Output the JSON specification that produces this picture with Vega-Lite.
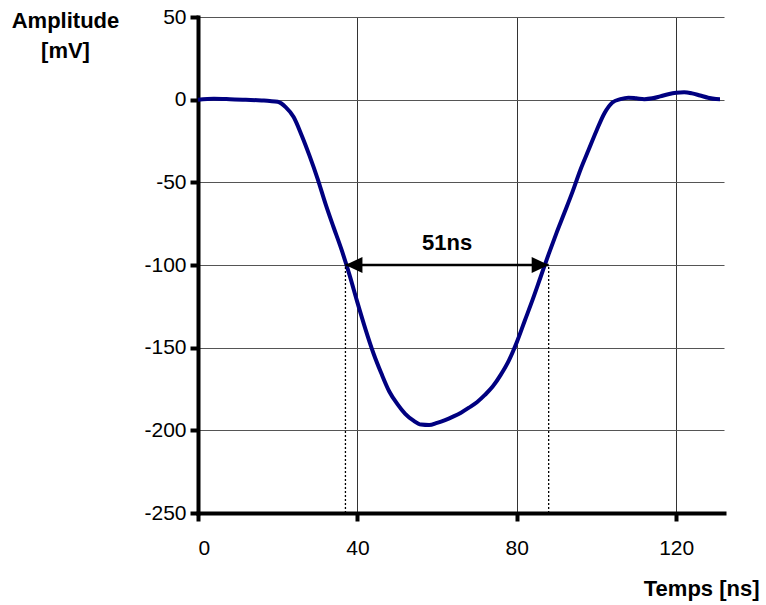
{
  "$schema": "https://vega.github.io/schema/vega-lite/v6.json",
  "width": 526,
  "height": 496,
  "autosize": "none",
  "padding": {"left": 198, "top": 17, "right": 42, "bottom": 92},
  "background": "white",
  "config": {
    "view": {"stroke": null},
    "font": "Liberation Sans",
    "axis": {
      "domainColor": "black",
      "domainWidth": 4,
      "domainCap": "square",
      "tickColor": "black",
      "tickWidth": 4,
      "tickSize": 8,
      "labelFont": "Liberation Sans",
      "labelFontSize": 21,
      "labelColor": "black",
      "labelExpr": "datum.value < 0 ? '-' + abs(datum.value) : '' + datum.value",
      "titleFont": "Liberation Sans",
      "titleFontSize": 22,
      "titleFontWeight": "bold",
      "titleColor": "black",
      "gridWidth": 1
    }
  },
  "datasets": {
    "pulse": [
      {"t": 0, "v": 0}, {"t": 4, "v": 0.5}, {"t": 8, "v": 0.3}, {"t": 12, "v": 0},
      {"t": 16, "v": -0.5}, {"t": 18, "v": -0.8}, {"t": 20, "v": -1.3}, {"t": 22, "v": -4.5},
      {"t": 24, "v": -10.5}, {"t": 26, "v": -21.5}, {"t": 28, "v": -34}, {"t": 30, "v": -47.7},
      {"t": 32, "v": -63}, {"t": 34, "v": -77}, {"t": 36, "v": -90.6}, {"t": 38, "v": -105.8},
      {"t": 40, "v": -122.6}, {"t": 42, "v": -138.6}, {"t": 44, "v": -153.2}, {"t": 46, "v": -165.5},
      {"t": 48, "v": -176.5}, {"t": 50, "v": -184}, {"t": 52, "v": -190}, {"t": 54, "v": -194},
      {"t": 56, "v": -196.5}, {"t": 58, "v": -196.8}, {"t": 60, "v": -195.5}, {"t": 62, "v": -193.8},
      {"t": 64, "v": -191.7}, {"t": 66, "v": -189.3}, {"t": 68, "v": -186.3}, {"t": 70, "v": -183},
      {"t": 72, "v": -178.6}, {"t": 74, "v": -173.4}, {"t": 76, "v": -166.3}, {"t": 78, "v": -157.8},
      {"t": 80, "v": -146.7}, {"t": 82, "v": -133.7}, {"t": 84, "v": -120.8}, {"t": 86, "v": -107.1},
      {"t": 88, "v": -93.4}, {"t": 90, "v": -80.4}, {"t": 92, "v": -68.1}, {"t": 94, "v": -55.6},
      {"t": 96, "v": -42.2}, {"t": 98, "v": -30.5}, {"t": 100, "v": -18.8}, {"t": 102, "v": -8.2},
      {"t": 104, "v": -1.7}, {"t": 106, "v": 0.3}, {"t": 108, "v": 1.2}, {"t": 110, "v": 0.8},
      {"t": 112, "v": 0.3}, {"t": 114, "v": 0.8}, {"t": 116, "v": 2}, {"t": 118, "v": 3.3},
      {"t": 120, "v": 4.2}, {"t": 122, "v": 4.5}, {"t": 124, "v": 3.8}, {"t": 126, "v": 2.5},
      {"t": 128, "v": 1.2}, {"t": 130, "v": 0.4}, {"t": 131, "v": 0.3}
    ],
    "width51": [
      {"t": 37, "t2": 88, "v": -100, "label": "51ns", "mid": 62.5}
    ],
    "heads": [
      {"t": 37, "v": -100, "base": -250, "side": "left"},
      {"t": 88, "v": -100, "base": -250, "side": "right"}
    ]
  },
  "layer": [
    {
      "data": {"name": "pulse"},
      "mark": {"type": "line", "color": "#000080", "strokeWidth": 4, "interpolate": "monotone"},
      "encoding": {
        "x": {
          "field": "t", "type": "quantitative",
          "scale": {"domain": [0, 132], "nice": false, "zero": false},
          "axis": {
            "values": [0, 40, 80, 120],
            "grid": true, "gridColor": "#333333",
            "labelPadding": 16,
            "title": "Temps [ns]",
            "titleAngle": 0, "titleAlign": "right", "titleBaseline": "alphabetic",
            "titleX": 561, "titleY": 82
          }
        },
        "y": {
          "field": "v", "type": "quantitative",
          "scale": {"domain": [-250, 50], "nice": false, "zero": false},
          "axis": {
            "values": [-250, -200, -150, -100, -50, 0, 50],
            "grid": true, "gridColor": "#555555",
            "labelPadding": 4,
            "title": ["Amplitude", "[mV]"],
            "titleAngle": 0, "titleAlign": "center", "titleBaseline": "alphabetic",
            "titleLineHeight": 30,
            "titleX": -133, "titleY": 10
          }
        }
      }
    },
    {
      "data": {"name": "heads"},
      "mark": {"type": "rule", "color": "black", "strokeWidth": 1.3, "strokeDash": [2, 2]},
      "encoding": {
        "x": {"field": "t", "type": "quantitative"},
        "y": {"field": "base", "type": "quantitative"},
        "y2": {"field": "v"}
      }
    },
    {
      "data": {"name": "width51"},
      "mark": {"type": "rule", "color": "black", "strokeWidth": 2.5},
      "encoding": {
        "x": {"field": "t", "type": "quantitative"},
        "x2": {"field": "t2"},
        "y": {"field": "v", "type": "quantitative"}
      }
    },
    {
      "data": {"name": "heads"},
      "mark": {"type": "point", "filled": true, "opacity": 1, "color": "black", "size": 289, "strokeWidth": 0},
      "encoding": {
        "x": {"field": "t", "type": "quantitative"},
        "y": {"field": "v", "type": "quantitative"},
        "shape": {
          "field": "side", "type": "nominal", "legend": null,
          "scale": {"domain": ["left", "right"], "range": ["M0,0L2,-0.95L2,0.95Z", "M0,0L-2,-0.95L-2,0.95Z"]}
        }
      }
    },
    {
      "data": {"name": "width51"},
      "mark": {"type": "text", "fontSize": 22, "fontWeight": "bold", "color": "black", "baseline": "alphabetic", "align": "center", "dy": -15},
      "encoding": {
        "x": {"field": "mid", "type": "quantitative"},
        "y": {"field": "v", "type": "quantitative"},
        "text": {"field": "label"}
      }
    }
  ]
}
